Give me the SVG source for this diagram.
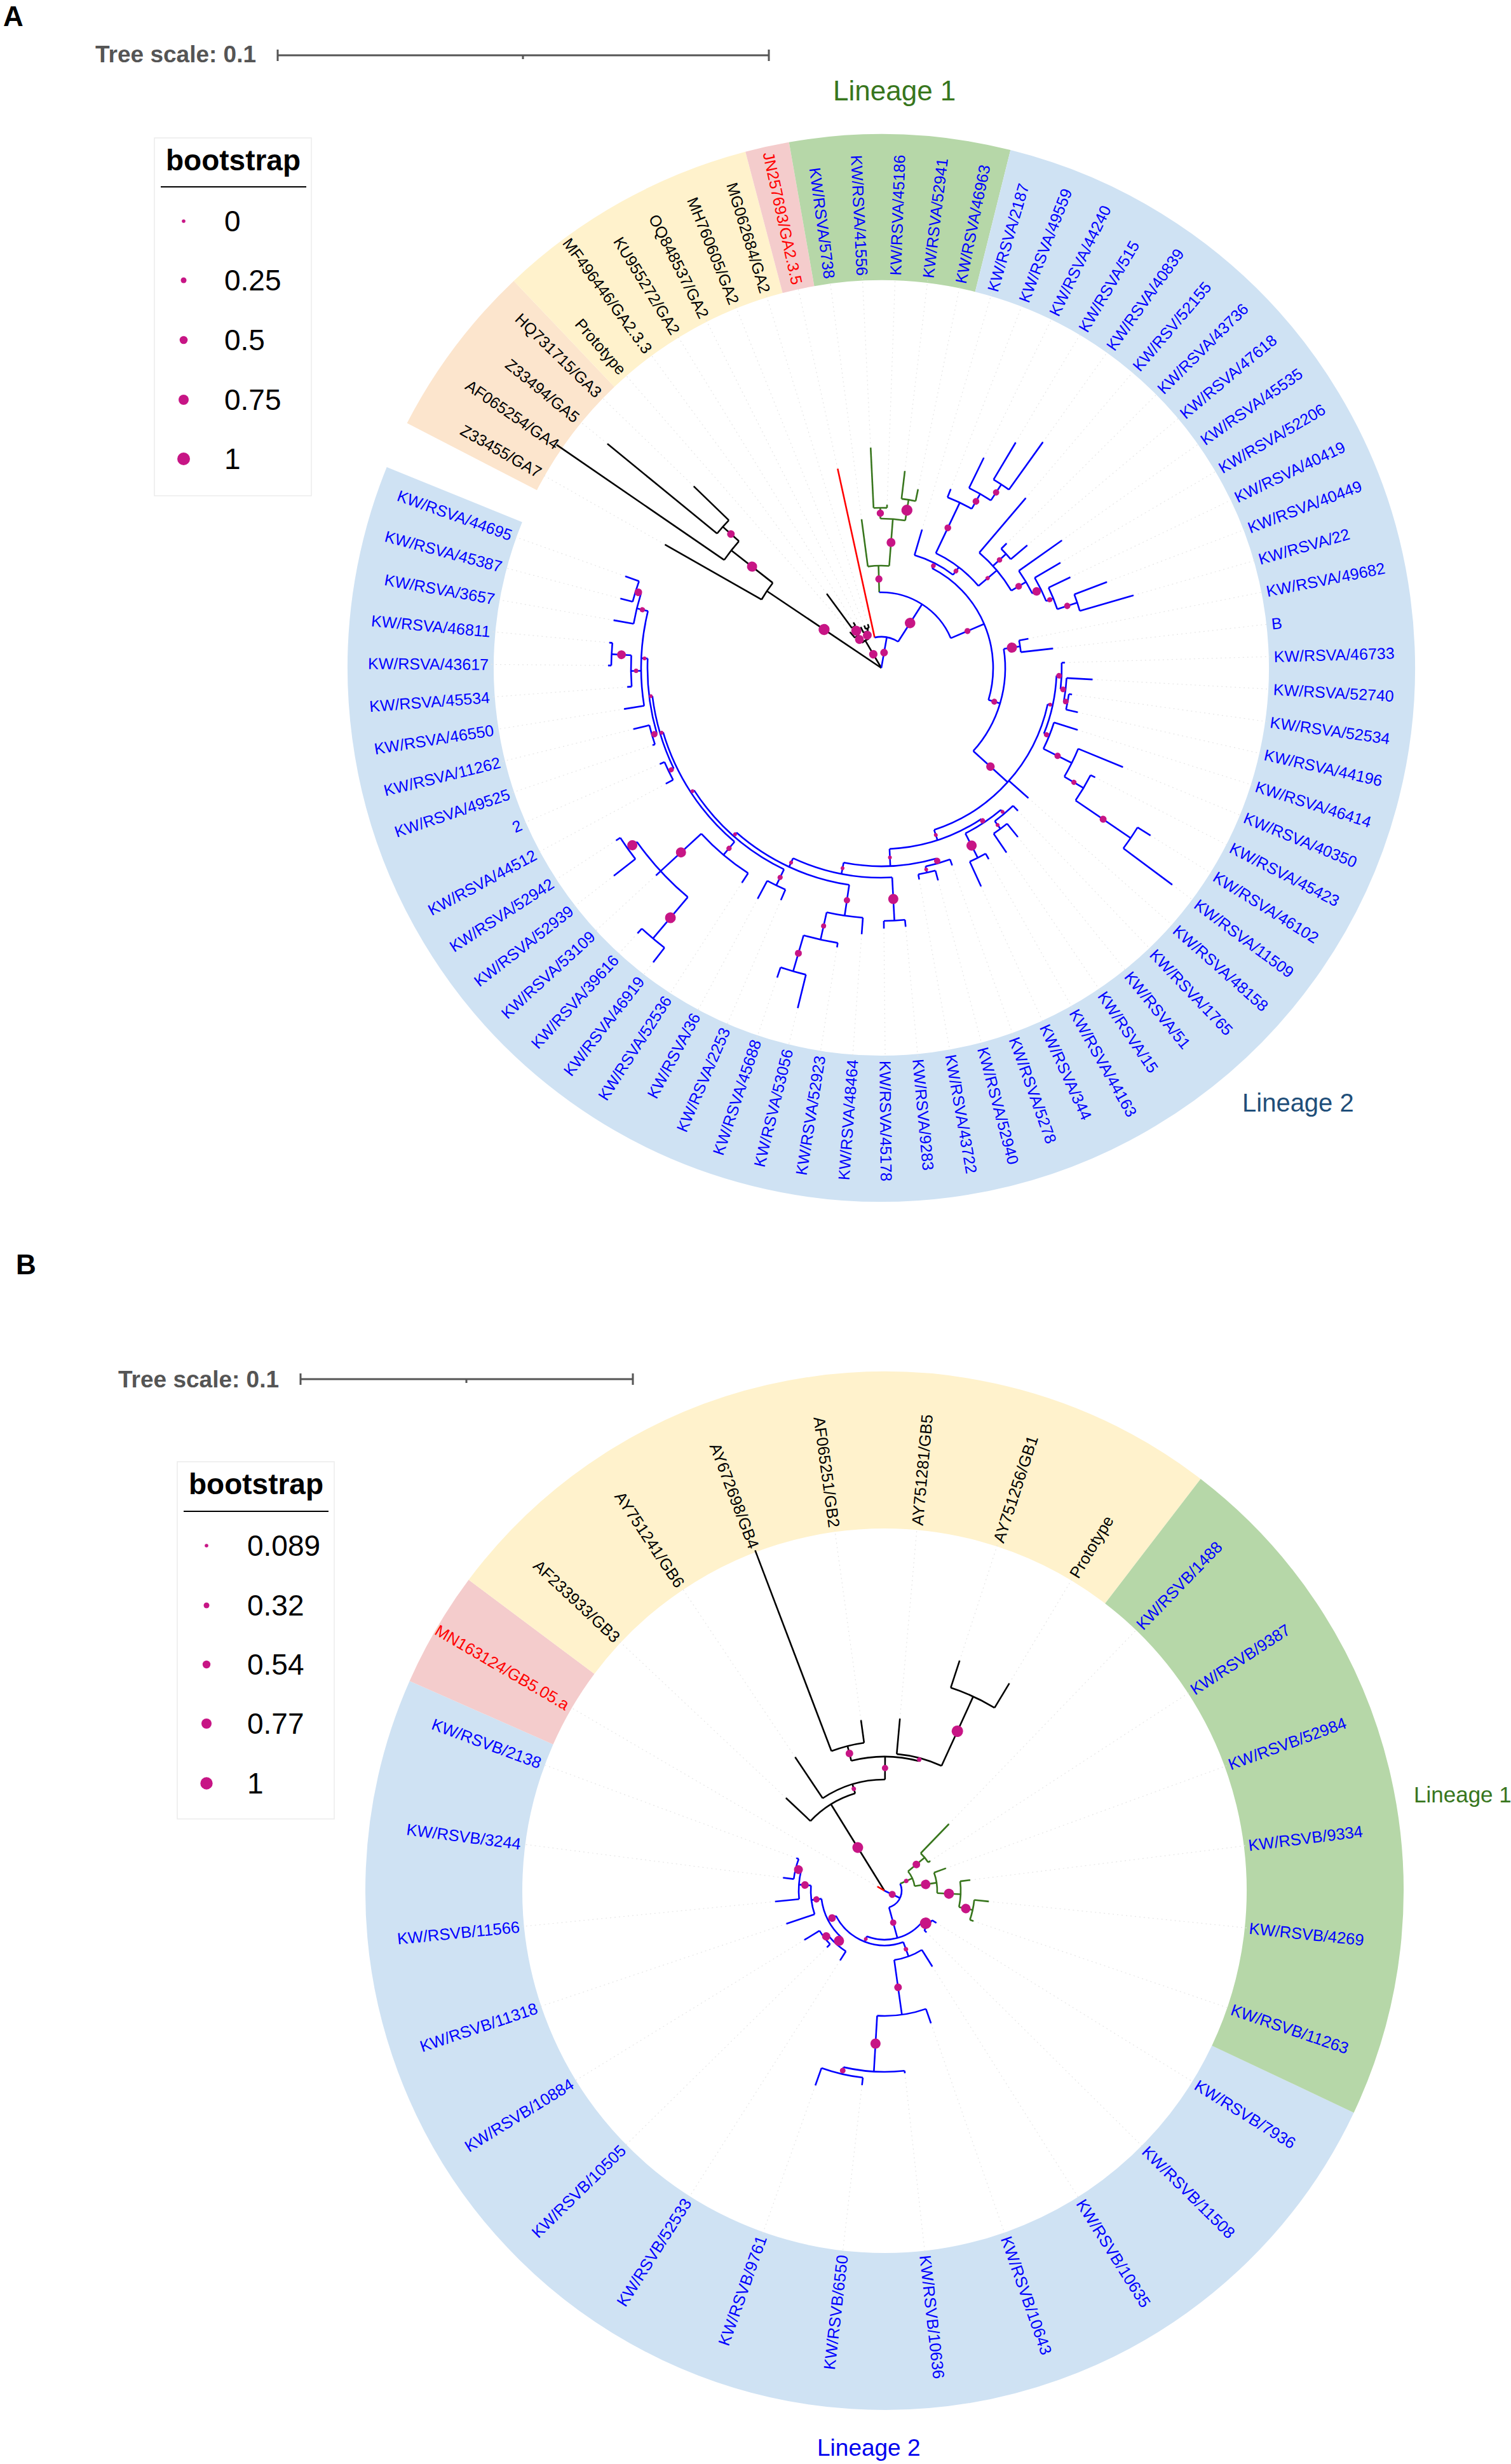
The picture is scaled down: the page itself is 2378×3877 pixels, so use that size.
<svg xmlns="http://www.w3.org/2000/svg" width="2378" height="3877" viewBox="0 0 2378 3877">
<style>
text{font-family:"Liberation Sans",Arial,sans-serif}
.lb text{font-size:25px;dominant-baseline:central}
.lbB text{font-size:25.5px;dominant-baseline:central}
.kw{fill:#0000ff}
.rf{fill:#000}
.rt{fill:#ff0000}
.dl line{stroke:#e6e6e6;stroke-width:1.2;stroke-dasharray:2 5}
.tr line,.tr circle{fill:none;stroke-width:2.6}
.k{stroke:#000}
.b{stroke:#0000ff}
.g{stroke:#38761d}
.r{stroke:#ff0000}
.dots circle{fill:#c71585}
.sc{font-weight:bold;font-size:37px;fill:#555}
.lg{font-size:46px;fill:#000}
.lgt{font-size:46px;font-weight:bold;fill:#000}
.pl{font-size:44px;font-weight:bold;fill:#000}
</style>
<rect width="2378" height="3877" fill="#fff"/>

<!-- ================= PANEL A ================= -->
<text id="A-letter" class="pl" x="5" y="41">A</text>
<g id="A-scale">
<text class="sc" x="150" y="98">Tree scale: 0.1</text>
<g stroke="#555" stroke-width="3">
<line x1="437" y1="87" x2="1210" y2="87"/><line x1="437" y1="78" x2="437" y2="96"/><line x1="1210" y1="78" x2="1210" y2="96"/><line x1="823" y1="87" x2="823" y2="93"/>
</g>
</g>
<g id="A-legend">
<rect x="243" y="217" width="247" height="563" fill="#fff" stroke="#ececec" stroke-width="1.5"/>
<text class="lgt" x="367" y="268" text-anchor="middle">bootstrap</text>
<line x1="253" y1="294" x2="482" y2="294" stroke="#000" stroke-width="2"/>
<g fill="#c71585"><circle cx="289" cy="348" r="2.8"/><circle cx="289" cy="441" r="4.5"/><circle cx="289" cy="535" r="6.3"/><circle cx="289" cy="629" r="8"/><circle cx="289" cy="722" r="10"/></g>
<text class="lg" x="353" y="364">0</text><text class="lg" x="353" y="457">0.25</text><text class="lg" x="353" y="551">0.5</text><text class="lg" x="353" y="645">0.75</text><text class="lg" x="353" y="738">1</text>
</g>

<g id="A-ranges" transform="translate(1387 1051)" fill="none" stroke-width="230">
<circle r="725" pathLength="360" stroke="#fce5cd" stroke-dasharray="19.18 400" transform="rotate(-152.70)"/>
<circle r="725" pathLength="360" stroke="#fff2cc" stroke-dasharray="28.77 400" transform="rotate(-133.52)"/>
<circle r="725" pathLength="360" stroke="#f4cccc" stroke-dasharray="4.79 400" transform="rotate(-104.75)"/>
<circle r="725" pathLength="360" stroke="#b6d7a8" stroke-dasharray="23.97 400" transform="rotate(-99.96)"/>
<circle r="725" pathLength="360" stroke="#cfe2f3" stroke-dasharray="278.09 400" transform="rotate(-75.99)"/>
</g>

<text id="A-lin1" x="1311" y="158" font-size="44" fill="#38761d">Lineage 1</text>
<text id="A-lin2" x="1955" y="1749" font-size="40" fill="#1f4e79">Lineage 2</text>

<g id="A-connectors" transform="translate(1387 1051)">
<g class="dl">
<line y1="-392" y2="-614" transform="rotate(-60.30)"/><line y1="-557" y2="-614" transform="rotate(-50.71)"/><line y1="-411" y2="-614" transform="rotate(-45.92)"/><line y1="-75" y2="-614" transform="rotate(-41.12)"/><line y1="-145" y2="-614" transform="rotate(-36.33)"/><line y1="-84" y2="-614" transform="rotate(-31.53)"/><line y1="-72" y2="-614" transform="rotate(-26.74)"/><line y1="-72" y2="-614" transform="rotate(-21.94)"/><line y1="-72" y2="-614" transform="rotate(-17.15)"/><line y1="-321" y2="-614" transform="rotate(-12.36)"/>
<line y1="-236" y2="-614" transform="rotate(-7.56)"/><line y1="-347" y2="-614" transform="rotate(-2.77)"/><line y1="-257" y2="-614" transform="rotate(2.03)"/><line y1="-312" y2="-614" transform="rotate(6.82)"/><line y1="-287" y2="-614" transform="rotate(11.62)"/><line y1="-227" y2="-614" transform="rotate(16.41)"/><line y1="-302" y2="-614" transform="rotate(21.21)"/><line y1="-368" y2="-614" transform="rotate(26.00)"/><line y1="-413" y2="-614" transform="rotate(30.80)"/><line y1="-437" y2="-614" transform="rotate(35.59)"/>
<line y1="-351" y2="-614" transform="rotate(40.38)"/><line y1="-278" y2="-614" transform="rotate(45.18)"/><line y1="-300" y2="-614" transform="rotate(49.97)"/><line y1="-348" y2="-614" transform="rotate(54.77)"/><line y1="-327" y2="-614" transform="rotate(59.56)"/><line y1="-330" y2="-614" transform="rotate(64.36)"/><line y1="-380" y2="-614" transform="rotate(69.15)"/><line y1="-413" y2="-614" transform="rotate(73.95)"/><line y1="-236" y2="-614" transform="rotate(78.74)"/><line y1="-272" y2="-614" transform="rotate(83.54)"/>
<line y1="-289" y2="-614" transform="rotate(88.33)"/><line y1="-333" y2="-614" transform="rotate(93.12)"/><line y1="-303" y2="-614" transform="rotate(97.92)"/><line y1="-317" y2="-614" transform="rotate(102.71)"/><line y1="-324" y2="-614" transform="rotate(107.51)"/><line y1="-411" y2="-614" transform="rotate(112.30)"/><line y1="-378" y2="-614" transform="rotate(117.10)"/><line y1="-499" y2="-614" transform="rotate(121.89)"/><line y1="-571" y2="-614" transform="rotate(126.69)"/><line y1="-309" y2="-614" transform="rotate(131.48)"/>
<line y1="-311" y2="-614" transform="rotate(136.27)"/><line y1="-342" y2="-614" transform="rotate(141.07)"/><line y1="-351" y2="-614" transform="rotate(145.86)"/><line y1="-345" y2="-614" transform="rotate(150.66)"/><line y1="-378" y2="-614" transform="rotate(155.45)"/><line y1="-330" y2="-614" transform="rotate(160.25)"/><line y1="-346" y2="-614" transform="rotate(165.04)"/><line y1="-338" y2="-614" transform="rotate(169.84)"/><line y1="-409" y2="-614" transform="rotate(174.63)"/><line y1="-410" y2="-614" transform="rotate(179.43)"/>
<line y1="-420" y2="-614" transform="rotate(184.22)"/><line y1="-445" y2="-614" transform="rotate(189.01)"/><line y1="-551" y2="-614" transform="rotate(193.81)"/><line y1="-514" y2="-614" transform="rotate(198.60)"/><line y1="-398" y2="-614" transform="rotate(203.40)"/><line y1="-412" y2="-614" transform="rotate(208.19)"/><line y1="-403" y2="-614" transform="rotate(212.99)"/><line y1="-586" y2="-614" transform="rotate(217.78)"/><line y1="-567" y2="-614" transform="rotate(222.58)"/><line y1="-482" y2="-614" transform="rotate(227.37)"/>
<line y1="-533" y2="-614" transform="rotate(232.16)"/><line y1="-498" y2="-614" transform="rotate(236.96)"/><line y1="-385" y2="-614" transform="rotate(241.75)"/><line y1="-380" y2="-614" transform="rotate(246.55)"/><line y1="-380" y2="-614" transform="rotate(251.34)"/><line y1="-402" y2="-614" transform="rotate(256.14)"/><line y1="-410" y2="-614" transform="rotate(260.93)"/><line y1="-401" y2="-614" transform="rotate(265.73)"/><line y1="-430" y2="-614" transform="rotate(270.52)"/><line y1="-430" y2="-614" transform="rotate(275.32)"/>
<line y1="-428" y2="-614" transform="rotate(280.11)"/><line y1="-425" y2="-614" transform="rotate(284.91)"/><line y1="-428" y2="-614" transform="rotate(289.70)"/>
</g>
<g class="tr k">
<line y2="-217" transform="rotate(-56.10)"/><line y1="-217" y2="-392" transform="rotate(-60.30)"/><line y1="-217" y2="-300" transform="rotate(-51.91)"/><line y1="-300" y2="-620" transform="rotate(-55.51)"/><line y1="-300" y2="-334" transform="rotate(-48.31)"/><line y1="-334" y2="-557" transform="rotate(-50.71)"/><line y1="-334" y2="-411" transform="rotate(-45.92)"/>
<line y2="-50" transform="rotate(-30.34)"/><line y1="-50" y2="-63" transform="rotate(-37.53)"/><line y1="-50" y2="-62" transform="rotate(-23.14)"/><line y1="-63" y2="-75" transform="rotate(-41.12)"/><line y1="-63" y2="-78" transform="rotate(-33.93)"/><line y1="-78" y2="-145" transform="rotate(-36.33)"/><line y1="-78" y2="-84" transform="rotate(-31.53)"/><line y1="-62" y2="-72" transform="rotate(-26.74)"/><line y1="-62" y2="-66" transform="rotate(-19.55)"/><line y1="-66" y2="-72" transform="rotate(-21.94)"/><line y1="-66" y2="-72" transform="rotate(-17.15)"/>
<circle r="217" pathLength="360" stroke-dasharray="8.39 400" transform="rotate(-150.30)"/>
<circle r="300" pathLength="360" stroke-dasharray="7.20 400" transform="rotate(-145.51)"/>
<circle r="334" pathLength="360" stroke-dasharray="4.79 400" transform="rotate(-140.71)"/>
<circle r="50" pathLength="360" stroke-dasharray="14.39 400" transform="rotate(-127.53)"/>
<circle r="63" pathLength="360" stroke-dasharray="7.19 400" transform="rotate(-131.12)"/>
<circle r="78" pathLength="360" stroke-dasharray="4.80 400" transform="rotate(-126.33)"/>
<circle r="62" pathLength="360" stroke-dasharray="7.19 400" transform="rotate(-116.74)"/>
<circle r="66" pathLength="360" stroke-dasharray="4.79 400" transform="rotate(-111.94)"/>
</g>
<g class="tr r"><line y1="-49" y2="-321" transform="rotate(-12.36)"/></g>
<g class="tr g">
<line y1="-119" y2="-161" transform="rotate(-1.57)"/><line y1="-161" y2="-236" transform="rotate(-7.56)"/><line y1="-161" y2="-235" transform="rotate(4.43)"/><line y1="-235" y2="-252" transform="rotate(-0.37)"/><line y1="-235" y2="-268" transform="rotate(9.22)"/><line y1="-252" y2="-347" transform="rotate(-2.77)"/><line y1="-252" y2="-257" transform="rotate(2.03)"/><line y1="-268" y2="-312" transform="rotate(6.82)"/><line y1="-268" y2="-287" transform="rotate(11.62)"/>
<circle r="161" pathLength="360" stroke-dasharray="11.99 400" transform="rotate(-97.56)"/>
<circle r="235" pathLength="360" stroke-dasharray="9.59 400" transform="rotate(-90.37)"/>
<circle r="252" pathLength="360" stroke-dasharray="4.80 400" transform="rotate(-92.77)"/>
<circle r="268" pathLength="360" stroke-dasharray="4.80 400" transform="rotate(-83.18)"/>
</g>
<g class="tr b">
<line y2="-49" transform="rotate(10.13)"/><line y1="-49" y2="-119" transform="rotate(32.62)"/><line y1="-119" y2="-176" transform="rotate(66.82)"/><line y1="-176" y2="-185" transform="rotate(27.01)"/><line y1="-176" y2="-195" transform="rotate(106.62)"/>
<line y1="-185" y2="-227" transform="rotate(16.41)"/><line y1="-185" y2="-200" transform="rotate(37.61)"/><line y1="-200" y2="-288" transform="rotate(25.40)"/><line y1="-200" y2="-238" transform="rotate(49.82)"/><line y1="-288" y2="-302" transform="rotate(21.21)"/><line y1="-288" y2="-315" transform="rotate(29.60)"/><line y1="-315" y2="-368" transform="rotate(26.00)"/><line y1="-315" y2="-345" transform="rotate(33.19)"/><line y1="-345" y2="-413" transform="rotate(30.80)"/><line y1="-345" y2="-437" transform="rotate(35.59)"/>
<line y1="-238" y2="-351" transform="rotate(40.38)"/><line y1="-238" y2="-266" transform="rotate(47.58)"/><line y1="-238" y2="-265" transform="rotate(59.26)"/><line y1="-266" y2="-278" transform="rotate(45.18)"/><line y1="-266" y2="-300" transform="rotate(49.97)"/><line y1="-265" y2="-348" transform="rotate(54.77)"/><line y1="-265" y2="-280" transform="rotate(63.76)"/><line y1="-280" y2="-327" transform="rotate(59.56)"/><line y1="-280" y2="-292" transform="rotate(67.95)"/><line y1="-292" y2="-330" transform="rotate(64.36)"/><line y1="-292" y2="-325" transform="rotate(71.55)"/><line y1="-325" y2="-380" transform="rotate(69.15)"/><line y1="-325" y2="-413" transform="rotate(73.95)"/>
<line y1="-195" y2="-221" transform="rotate(81.14)"/><line y1="-195" y2="-268" transform="rotate(132.10)"/><line y1="-221" y2="-236" transform="rotate(78.74)"/><line y1="-221" y2="-272" transform="rotate(83.54)"/>
<line y1="-268" y2="-276" transform="rotate(102.26)"/><line y1="-268" y2="-309" transform="rotate(131.48)"/><line y1="-268" y2="-285" transform="rotate(161.93)"/>
<line y1="-276" y2="-284" transform="rotate(92.52)"/><line y1="-276" y2="-285" transform="rotate(112.00)"/><line y1="-284" y2="-289" transform="rotate(88.33)"/><line y1="-284" y2="-292" transform="rotate(96.72)"/><line y1="-292" y2="-333" transform="rotate(93.12)"/><line y1="-292" y2="-298" transform="rotate(100.32)"/><line y1="-298" y2="-303" transform="rotate(97.92)"/><line y1="-298" y2="-317" transform="rotate(102.71)"/>
<line y1="-285" y2="-324" transform="rotate(107.51)"/><line y1="-285" y2="-335" transform="rotate(116.50)"/><line y1="-335" y2="-411" transform="rotate(112.30)"/><line y1="-335" y2="-370" transform="rotate(120.70)"/><line y1="-370" y2="-378" transform="rotate(117.10)"/><line y1="-370" y2="-475" transform="rotate(124.29)"/><line y1="-475" y2="-499" transform="rotate(121.89)"/><line y1="-475" y2="-571" transform="rotate(126.69)"/>
<line y1="-285" y2="-292" transform="rotate(146.46)"/><line y1="-285" y2="-312" transform="rotate(177.40)"/><line y1="-292" y2="-300" transform="rotate(139.87)"/><line y1="-292" y2="-335" transform="rotate(153.06)"/><line y1="-300" y2="-311" transform="rotate(136.27)"/><line y1="-300" y2="-315" transform="rotate(143.47)"/><line y1="-315" y2="-342" transform="rotate(141.07)"/><line y1="-315" y2="-351" transform="rotate(145.86)"/><line y1="-335" y2="-345" transform="rotate(150.66)"/><line y1="-335" y2="-378" transform="rotate(155.45)"/>
<line y1="-312" y2="-320" transform="rotate(163.84)"/><line y1="-312" y2="-330" transform="rotate(190.95)"/><line y1="-320" y2="-330" transform="rotate(160.25)"/><line y1="-320" y2="-330" transform="rotate(167.44)"/><line y1="-330" y2="-346" transform="rotate(165.04)"/><line y1="-330" y2="-338" transform="rotate(169.84)"/>
<line y1="-330" y2="-398" transform="rotate(177.03)"/><line y1="-330" y2="-345" transform="rotate(204.88)"/><line y1="-398" y2="-409" transform="rotate(174.63)"/><line y1="-398" y2="-410" transform="rotate(179.43)"/>
<line y1="-345" y2="-394" transform="rotate(188.42)"/><line y1="-345" y2="-352" transform="rotate(221.34)"/><line y1="-394" y2="-420" transform="rotate(184.22)"/><line y1="-394" y2="-438" transform="rotate(192.61)"/><line y1="-438" y2="-445" transform="rotate(189.01)"/><line y1="-438" y2="-497" transform="rotate(196.21)"/><line y1="-497" y2="-551" transform="rotate(193.81)"/><line y1="-497" y2="-514" transform="rotate(198.60)"/>
<line y1="-352" y2="-380" transform="rotate(205.79)"/><line y1="-352" y2="-358" transform="rotate(236.88)"/><line y1="-380" y2="-398" transform="rotate(203.40)"/><line y1="-380" y2="-412" transform="rotate(208.19)"/>
<line y1="-358" y2="-385" transform="rotate(220.18)"/><line y1="-358" y2="-363" transform="rotate(253.59)"/><line y1="-385" y2="-403" transform="rotate(212.99)"/><line y1="-385" y2="-472" transform="rotate(227.37)"/><line y1="-472" y2="-557" transform="rotate(220.18)"/><line y1="-472" y2="-482" transform="rotate(227.37)"/><line y1="-472" y2="-490" transform="rotate(234.56)"/><line y1="-557" y2="-586" transform="rotate(217.78)"/><line y1="-557" y2="-567" transform="rotate(222.58)"/><line y1="-490" y2="-533" transform="rotate(232.16)"/><line y1="-490" y2="-498" transform="rotate(236.96)"/>
<line y1="-363" y2="-372" transform="rotate(244.15)"/><line y1="-363" y2="-368" transform="rotate(263.03)"/><line y1="-372" y2="-385" transform="rotate(241.75)"/><line y1="-372" y2="-380" transform="rotate(246.55)"/><line y1="-368" y2="-376" transform="rotate(253.74)"/><line y1="-368" y2="-378" transform="rotate(272.32)"/><line y1="-376" y2="-380" transform="rotate(251.34)"/><line y1="-376" y2="-402" transform="rotate(256.14)"/>
<line y1="-378" y2="-410" transform="rotate(260.93)"/><line y1="-378" y2="-394" transform="rotate(269.32)"/><line y1="-378" y2="-396" transform="rotate(283.70)"/><line y1="-394" y2="-401" transform="rotate(265.73)"/><line y1="-394" y2="-425" transform="rotate(272.92)"/><line y1="-425" y2="-430" transform="rotate(270.52)"/><line y1="-425" y2="-430" transform="rotate(275.32)"/><line y1="-396" y2="-428" transform="rotate(280.11)"/><line y1="-396" y2="-405" transform="rotate(287.30)"/><line y1="-405" y2="-425" transform="rotate(284.91)"/><line y1="-405" y2="-428" transform="rotate(289.70)"/>
<circle r="49" pathLength="360" stroke-dasharray="44.98 400" transform="rotate(-102.36)"/>
<circle r="119" pathLength="360" stroke-dasharray="68.39 400" transform="rotate(-91.57)"/>
<circle r="176" pathLength="360" stroke-dasharray="79.61 400" transform="rotate(-62.99)"/>
<circle r="185" pathLength="360" stroke-dasharray="21.20 400" transform="rotate(-73.59)"/>
<circle r="200" pathLength="360" stroke-dasharray="24.42 400" transform="rotate(-64.60)"/>
<circle r="288" pathLength="360" stroke-dasharray="8.39 400" transform="rotate(-68.79)"/>
<circle r="315" pathLength="360" stroke-dasharray="7.19 400" transform="rotate(-64.00)"/>
<circle r="345" pathLength="360" stroke-dasharray="4.79 400" transform="rotate(-59.20)"/>
<circle r="238" pathLength="360" stroke-dasharray="18.88 400" transform="rotate(-49.62)"/>
<circle r="266" pathLength="360" stroke-dasharray="4.79 400" transform="rotate(-44.82)"/>
<circle r="265" pathLength="360" stroke-dasharray="8.99 400" transform="rotate(-35.23)"/>
<circle r="280" pathLength="360" stroke-dasharray="8.39 400" transform="rotate(-30.44)"/>
<circle r="292" pathLength="360" stroke-dasharray="7.19 400" transform="rotate(-25.64)"/>
<circle r="325" pathLength="360" stroke-dasharray="4.80 400" transform="rotate(-20.85)"/>
<circle r="195" pathLength="360" stroke-dasharray="50.96 400" transform="rotate(-8.86)"/>
<circle r="221" pathLength="360" stroke-dasharray="4.80 400" transform="rotate(-11.26)"/>
<circle r="268" pathLength="360" stroke-dasharray="59.67 400" transform="rotate(12.26)"/>
<circle r="276" pathLength="360" stroke-dasharray="19.48 400" transform="rotate(2.52)"/>
<circle r="284" pathLength="360" stroke-dasharray="8.39 400" transform="rotate(-1.67)"/>
<circle r="292" pathLength="360" stroke-dasharray="7.20 400" transform="rotate(3.12)"/>
<circle r="298" pathLength="360" stroke-dasharray="4.79 400" transform="rotate(7.92)"/>
<circle r="285" pathLength="360" stroke-dasharray="8.99 400" transform="rotate(17.51)"/>
<circle r="335" pathLength="360" stroke-dasharray="8.40 400" transform="rotate(22.30)"/>
<circle r="370" pathLength="360" stroke-dasharray="7.19 400" transform="rotate(27.10)"/>
<circle r="475" pathLength="360" stroke-dasharray="4.80 400" transform="rotate(31.89)"/>
<circle r="285" pathLength="360" stroke-dasharray="30.94 400" transform="rotate(56.46)"/>
<circle r="292" pathLength="360" stroke-dasharray="13.19 400" transform="rotate(49.87)"/>
<circle r="300" pathLength="360" stroke-dasharray="7.20 400" transform="rotate(46.27)"/>
<circle r="315" pathLength="360" stroke-dasharray="4.79 400" transform="rotate(51.07)"/>
<circle r="335" pathLength="360" stroke-dasharray="4.79 400" transform="rotate(60.66)"/>
<circle r="312" pathLength="360" stroke-dasharray="27.11 400" transform="rotate(73.84)"/>
<circle r="320" pathLength="360" stroke-dasharray="7.19 400" transform="rotate(70.25)"/>
<circle r="330" pathLength="360" stroke-dasharray="4.80 400" transform="rotate(75.04)"/>
<circle r="330" pathLength="360" stroke-dasharray="27.85 400" transform="rotate(87.03)"/>
<circle r="398" pathLength="360" stroke-dasharray="4.80 400" transform="rotate(84.63)"/>
<circle r="345" pathLength="360" stroke-dasharray="32.92 400" transform="rotate(98.42)"/>
<circle r="394" pathLength="360" stroke-dasharray="8.39 400" transform="rotate(94.22)"/>
<circle r="438" pathLength="360" stroke-dasharray="7.20 400" transform="rotate(99.01)"/>
<circle r="497" pathLength="360" stroke-dasharray="4.79 400" transform="rotate(103.81)"/>
<circle r="352" pathLength="360" stroke-dasharray="31.09 400" transform="rotate(115.79)"/>
<circle r="380" pathLength="360" stroke-dasharray="4.79 400" transform="rotate(113.40)"/>
<circle r="358" pathLength="360" stroke-dasharray="33.41 400" transform="rotate(130.18)"/>
<circle r="385" pathLength="360" stroke-dasharray="14.38 400" transform="rotate(122.99)"/>
<circle r="472" pathLength="360" stroke-dasharray="14.38 400" transform="rotate(130.18)"/>
<circle r="557" pathLength="360" stroke-dasharray="4.80 400" transform="rotate(127.78)"/>
<circle r="490" pathLength="360" stroke-dasharray="4.80 400" transform="rotate(142.16)"/>
<circle r="363" pathLength="360" stroke-dasharray="18.88 400" transform="rotate(154.15)"/>
<circle r="372" pathLength="360" stroke-dasharray="4.80 400" transform="rotate(151.75)"/>
<circle r="368" pathLength="360" stroke-dasharray="18.58 400" transform="rotate(163.74)"/>
<circle r="376" pathLength="360" stroke-dasharray="4.80 400" transform="rotate(161.34)"/>
<circle r="378" pathLength="360" stroke-dasharray="22.77 400" transform="rotate(170.93)"/>
<circle r="394" pathLength="360" stroke-dasharray="7.19 400" transform="rotate(175.73)"/>
<circle r="425" pathLength="360" stroke-dasharray="4.80 400" transform="rotate(180.52)"/>
<circle r="396" pathLength="360" stroke-dasharray="7.19 400" transform="rotate(190.11)"/>
<circle r="405" pathLength="360" stroke-dasharray="4.79 400" transform="rotate(194.91)"/>
</g>
</g>

<g id="A-nodes" class="dots" transform="translate(1387 1051)">
<circle cy="-108.5" r="8.7" transform="rotate(-56.10)"/><circle cy="-258.5" r="8" transform="rotate(-51.91)"/><circle cy="-317" r="6" transform="rotate(-48.31)"/>
<circle cy="-25" r="6.7" transform="rotate(-30.34)"/><circle cy="-56.5" r="7" transform="rotate(-37.53)"/><circle cy="-70.5" r="8" transform="rotate(-33.93)"/><circle cy="-56" r="7" transform="rotate(-23.14)"/>
<circle cy="-24.5" r="6" transform="rotate(10.13)"/><circle cy="-84" r="8.3" transform="rotate(32.62)"/>
<circle cy="-140" r="5.7" transform="rotate(-1.57)"/><circle cy="-198" r="7" transform="rotate(4.43)"/><circle cy="-243.5" r="5.7" transform="rotate(-0.37)"/><circle cy="-251.5" r="8.7" transform="rotate(9.22)"/>
<circle cy="-147.5" r="4.7" transform="rotate(66.82)"/><circle cy="-180.5" r="3.7" transform="rotate(27.01)"/><circle cy="-192.5" r="3.7" transform="rotate(37.61)"/><circle cy="-244" r="5.3" transform="rotate(25.40)"/><circle cy="-301.5" r="5.3" transform="rotate(29.60)"/><circle cy="-330" r="5" transform="rotate(33.19)"/>
<circle cy="-219" r="3.3" transform="rotate(49.82)"/><circle cy="-252" r="4.3" transform="rotate(47.58)"/><circle cy="-251.5" r="5.3" transform="rotate(59.26)"/><circle cy="-272.5" r="6.7" transform="rotate(63.76)"/><circle cy="-286" r="4" transform="rotate(67.95)"/><circle cy="-308.5" r="5" transform="rotate(71.55)"/>
<circle cy="-185.5" r="4.7" transform="rotate(106.62)"/><circle cy="-208" r="8" transform="rotate(81.14)"/><circle cy="-231.5" r="6.7" transform="rotate(132.10)"/><circle cy="-272" r="3" transform="rotate(102.26)"/>
<circle cy="-280" r="4.5" transform="rotate(92.52)"/><circle cy="-288" r="4.5" transform="rotate(96.72)"/><circle cy="-295" r="4.5" transform="rotate(100.32)"/><circle cy="-280.5" r="4" transform="rotate(112.00)"/><circle cy="-310" r="5" transform="rotate(116.50)"/><circle cy="-352.5" r="4" transform="rotate(120.70)"/><circle cy="-422.5" r="5.5" transform="rotate(124.29)"/>
<circle cy="-276.5" r="3" transform="rotate(161.93)"/><circle cy="-288.5" r="4" transform="rotate(146.46)"/><circle cy="-296" r="3" transform="rotate(139.87)"/><circle cy="-307.5" r="3" transform="rotate(143.47)"/><circle cy="-313.5" r="8" transform="rotate(153.06)"/>
<circle cy="-298.5" r="3" transform="rotate(177.40)"/><circle cy="-316" r="5" transform="rotate(163.84)"/><circle cy="-325" r="3" transform="rotate(167.44)"/><circle cy="-321" r="3" transform="rotate(190.95)"/><circle cy="-364" r="8" transform="rotate(177.03)"/>
<circle cy="-337.5" r="3" transform="rotate(204.88)"/><circle cy="-369.5" r="5" transform="rotate(188.42)"/><circle cy="-416" r="4" transform="rotate(192.61)"/><circle cy="-467.5" r="5.5" transform="rotate(196.21)"/>
<circle cy="-348.5" r="3" transform="rotate(221.34)"/><circle cy="-366" r="4" transform="rotate(205.79)"/><circle cy="-355" r="3" transform="rotate(236.88)"/><circle cy="-371.5" r="4" transform="rotate(220.18)"/><circle cy="-428.5" r="8" transform="rotate(227.37)"/><circle cy="-514.5" r="8.5" transform="rotate(220.18)"/><circle cy="-481" r="8" transform="rotate(234.56)"/>
<circle cy="-360.5" r="3" transform="rotate(253.59)"/><circle cy="-367.5" r="4" transform="rotate(244.15)"/><circle cy="-365.5" r="3" transform="rotate(263.03)"/><circle cy="-372" r="5" transform="rotate(253.74)"/><circle cy="-373" r="3" transform="rotate(272.32)"/><circle cy="-386" r="3.5" transform="rotate(269.32)"/><circle cy="-409.5" r="7" transform="rotate(272.92)"/><circle cy="-387" r="4" transform="rotate(283.70)"/><circle cy="-400.5" r="6" transform="rotate(287.30)"/>
</g>

<g id="A-labels" class="lb" transform="translate(1387 1051)">
<g class="rf" text-anchor="end">
<text transform="rotate(29.70) translate(-618 0)">Z33455/GA7</text>
<text transform="rotate(34.49) translate(-618 0)">AF065254/GA4</text>
<text transform="rotate(39.29) translate(-618 0)">Z33494/GA5</text>
<text transform="rotate(44.08) translate(-618 0)">HQ731715/GA3</text>
<text transform="rotate(48.88) translate(-618 0)">Prototype</text>
<text transform="rotate(53.67) translate(-618 0)">MF496446/GA2.3.3</text>
<text transform="rotate(58.47) translate(-618 0)">KU955272/GA2</text>
<text transform="rotate(63.26) translate(-618 0)">OQ848537/GA2</text>
<text transform="rotate(68.06) translate(-618 0)">MH760605/GA2</text>
<text transform="rotate(72.85) translate(-618 0)">MG062684/GA2</text>
</g>
<text class="rt" text-anchor="end" transform="rotate(77.64) translate(-618 0)">JN257693/GA2.3.5</text>
<g class="kw" text-anchor="end">
<text transform="rotate(82.44) translate(-618 0)">KW/RSVA/5738</text>
<text transform="rotate(87.23) translate(-618 0)">KW/RSVA/41556</text>
<text transform="rotate(274.22) translate(-618 0)">KW/RSVA/48464</text>
<text transform="rotate(279.01) translate(-618 0)">KW/RSVA/52923</text>
<text transform="rotate(283.81) translate(-618 0)">KW/RSVA/53056</text>
<text transform="rotate(288.60) translate(-618 0)">KW/RSVA/45688</text>
<text transform="rotate(293.40) translate(-618 0)">KW/RSVA/2253</text>
<text transform="rotate(298.19) translate(-618 0)">KW/RSVA/36</text>
<text transform="rotate(302.99) translate(-618 0)">KW/RSVA/52536</text>
<text transform="rotate(307.78) translate(-618 0)">KW/RSVA/46919</text>
<text transform="rotate(312.58) translate(-618 0)">KW/RSVA/39616</text>
<text transform="rotate(317.37) translate(-618 0)">KW/RSVA/53109</text>
<text transform="rotate(322.16) translate(-618 0)">KW/RSVA/52939</text>
<text transform="rotate(326.96) translate(-618 0)">KW/RSVA/52942</text>
<text transform="rotate(331.75) translate(-618 0)">KW/RSVA/44512</text>
<text transform="rotate(336.55) translate(-618 0)">2</text>
<text transform="rotate(341.34) translate(-618 0)">KW/RSVA/49525</text>
<text transform="rotate(346.14) translate(-618 0)">KW/RSVA/11262</text>
<text transform="rotate(350.93) translate(-618 0)">KW/RSVA/46550</text>
<text transform="rotate(355.73) translate(-618 0)">KW/RSVA/45534</text>
<text transform="rotate(360.52) translate(-618 0)">KW/RSVA/43617</text>
<text transform="rotate(365.32) translate(-618 0)">KW/RSVA/46811</text>
<text transform="rotate(370.11) translate(-618 0)">KW/RSVA/3657</text>
<text transform="rotate(374.91) translate(-618 0)">KW/RSVA/45387</text>
<text transform="rotate(379.70) translate(-618 0)">KW/RSVA/44695</text>
</g>
<g class="kw">
<text transform="rotate(-87.97) translate(618 0)">KW/RSVA/45186</text>
<text transform="rotate(-83.18) translate(618 0)">KW/RSVA/52941</text>
<text transform="rotate(-78.38) translate(618 0)">KW/RSVA/46963</text>
<text transform="rotate(-73.59) translate(618 0)">KW/RSVA/2187</text>
<text transform="rotate(-68.79) translate(618 0)">KW/RSVA/49559</text>
<text transform="rotate(-64.00) translate(618 0)">KW/RSVA/44240</text>
<text transform="rotate(-59.20) translate(618 0)">KW/RSVA/515</text>
<text transform="rotate(-54.41) translate(618 0)">KW/RSVA/40839</text>
<text transform="rotate(-49.62) translate(618 0)">KW/RSV/52155</text>
<text transform="rotate(-44.82) translate(618 0)">KW/RSVA/43736</text>
<text transform="rotate(-40.03) translate(618 0)">KW/RSVA/47618</text>
<text transform="rotate(-35.23) translate(618 0)">KW/RSVA/45535</text>
<text transform="rotate(-30.44) translate(618 0)">KW/RSVA/52206</text>
<text transform="rotate(-25.64) translate(618 0)">KW/RSVA/40419</text>
<text transform="rotate(-20.85) translate(618 0)">KW/RSVA/40449</text>
<text transform="rotate(-16.05) translate(618 0)">KW/RSVA/22</text>
<text transform="rotate(-11.26) translate(618 0)">KW/RSVA/49682</text>
<text transform="rotate(-6.46) translate(618 0)">B</text>
<text transform="rotate(-1.67) translate(618 0)">KW/RSVA/46733</text>
<text transform="rotate(3.12) translate(618 0)">KW/RSVA/52740</text>
<text transform="rotate(7.92) translate(618 0)">KW/RSVA/52534</text>
<text transform="rotate(12.71) translate(618 0)">KW/RSVA/44196</text>
<text transform="rotate(17.51) translate(618 0)">KW/RSVA/46414</text>
<text transform="rotate(22.30) translate(618 0)">KW/RSVA/40350</text>
<text transform="rotate(27.10) translate(618 0)">KW/RSVA/45423</text>
<text transform="rotate(31.89) translate(618 0)">KW/RSVA/46102</text>
<text transform="rotate(36.69) translate(618 0)">KW/RSVA/11509</text>
<text transform="rotate(41.48) translate(618 0)">KW/RSVA/48158</text>
<text transform="rotate(46.27) translate(618 0)">KW/RSVA/1765</text>
<text transform="rotate(51.07) translate(618 0)">KW/RSVA/51</text>
<text transform="rotate(55.86) translate(618 0)">KW/RSVA/15</text>
<text transform="rotate(60.66) translate(618 0)">KW/RSVA/44163</text>
<text transform="rotate(65.45) translate(618 0)">KW/RSVA/344</text>
<text transform="rotate(70.25) translate(618 0)">KW/RSVA/5278</text>
<text transform="rotate(75.04) translate(618 0)">KW/RSVA/52940</text>
<text transform="rotate(79.84) translate(618 0)">KW/RSVA/43722</text>
<text transform="rotate(84.63) translate(618 0)">KW/RSVA/9283</text>
<text transform="rotate(89.43) translate(618 0)">KW/RSVA/45178</text>
</g>
</g>

<!-- ================= PANEL B ================= -->
<text id="B-letter" class="pl" x="25" y="2005">B</text>
<g id="B-scale">
<text class="sc" x="186" y="2183">Tree scale: 0.1</text>
<g stroke="#555" stroke-width="3">
<line x1="473" y1="2170" x2="996" y2="2170"/><line x1="473" y1="2161" x2="473" y2="2179"/><line x1="996" y1="2161" x2="996" y2="2179"/><line x1="734" y1="2170" x2="734" y2="2176"/>
</g>
</g>
<g id="B-legend">
<rect x="279" y="2300" width="247" height="562" fill="#fff" stroke="#ececec" stroke-width="1.5"/>
<text class="lgt" x="403" y="2351" text-anchor="middle">bootstrap</text>
<line x1="289" y1="2378" x2="517" y2="2378" stroke="#000" stroke-width="2"/>
<g fill="#c71585"><circle cx="325" cy="2432" r="2.8"/><circle cx="325" cy="2526" r="4.5"/><circle cx="325" cy="2619" r="6.2"/><circle cx="325" cy="2712" r="8"/><circle cx="325" cy="2806" r="9.7"/></g>
<text class="lg" x="389" y="2448">0.089</text><text class="lg" x="389" y="2542">0.32</text><text class="lg" x="389" y="2635">0.54</text><text class="lg" x="389" y="2728">0.77</text><text class="lg" x="389" y="2822">1</text>
</g>

<g id="B-ranges" transform="translate(1392 2975)" fill="none" stroke-width="247">
<circle r="693.5" pathLength="360" stroke="#cfe2f3" stroke-dasharray="178.52 400" transform="rotate(25.30)"/>
<circle r="693.5" pathLength="360" stroke="#f4cccc" stroke-dasharray="12.96 400" transform="rotate(-156.18)"/>
<circle r="693.5" pathLength="360" stroke="#fff2cc" stroke-dasharray="90.74 400" transform="rotate(-143.22)"/>
<circle r="693.5" pathLength="360" stroke="#b6d7a8" stroke-dasharray="77.78 400" transform="rotate(-52.48)"/>
</g>

<text id="B-lin1" x="2225" y="2836" font-size="35" fill="#38761d">Lineage 1</text>
<text id="B-lin2" x="1286" y="3864" font-size="37" fill="#0000ee">Lineage 2</text>

<g id="B-connectors" transform="translate(1392 2975)">
<g class="dl">
<line y1="-13" y2="-573" transform="rotate(-59.70)"/><line y1="-213" y2="-573" transform="rotate(-46.74)"/><line y1="-253" y2="-573" transform="rotate(-33.77)"/><line y1="-271" y2="-573" transform="rotate(-7.85)"/><line y1="-272" y2="-573" transform="rotate(5.12)"/><line y1="-381" y2="-573" transform="rotate(18.08)"/><line y1="-381" y2="-573" transform="rotate(31.04)"/>
<line y1="-146" y2="-573" transform="rotate(44.00)"/><line y1="-86" y2="-573" transform="rotate(56.97)"/><line y1="-103" y2="-573" transform="rotate(69.93)"/><line y1="-136" y2="-573" transform="rotate(82.89)"/><line y1="-165" y2="-573" transform="rotate(95.86)"/><line y1="-148" y2="-573" transform="rotate(108.82)"/>
<line y1="-96" y2="-573" transform="rotate(121.78)"/><line y1="-93" y2="-573" transform="rotate(134.74)"/><line y1="-141" y2="-573" transform="rotate(147.71)"/><line y1="-221" y2="-573" transform="rotate(160.67)"/><line y1="-289" y2="-573" transform="rotate(173.63)"/><line y1="-308" y2="-573" transform="rotate(186.60)"/><line y1="-325" y2="-573" transform="rotate(199.56)"/>
<line y1="-130" y2="-573" transform="rotate(212.52)"/><line y1="-127" y2="-573" transform="rotate(225.49)"/><line y1="-148" y2="-573" transform="rotate(238.45)"/><line y1="-163" y2="-573" transform="rotate(251.41)"/><line y1="-173" y2="-573" transform="rotate(264.37)"/><line y1="-161" y2="-573" transform="rotate(277.34)"/><line y1="-148" y2="-573" transform="rotate(290.30)"/>
</g>
<g class="tr k">
<line y2="-160" transform="rotate(-31.75)"/><line y1="-160" y2="-213" transform="rotate(-46.74)"/><line y1="-160" y2="-175" transform="rotate(-16.76)"/><line y1="-175" y2="-253" transform="rotate(-33.77)"/><line y1="-175" y2="-211" transform="rotate(0.26)"/><line y1="-211" y2="-235" transform="rotate(-14.33)"/><line y1="-211" y2="-216" transform="rotate(14.84)"/><line y1="-235" y2="-573" transform="rotate(-20.81)"/><line y1="-235" y2="-271" transform="rotate(-7.85)"/><line y1="-216" y2="-272" transform="rotate(5.12)"/><line y1="-216" y2="-336" transform="rotate(24.56)"/><line y1="-336" y2="-381" transform="rotate(18.08)"/><line y1="-336" y2="-381" transform="rotate(31.04)"/>
<circle r="160" pathLength="360" stroke-dasharray="29.98 400" transform="rotate(-136.74)"/>
<circle r="175" pathLength="360" stroke-dasharray="34.03 400" transform="rotate(-123.77)"/>
<circle r="211" pathLength="360" stroke-dasharray="29.17 400" transform="rotate(-104.33)"/>
<circle r="235" pathLength="360" stroke-dasharray="12.96 400" transform="rotate(-110.81)"/>
<circle r="216" pathLength="360" stroke-dasharray="19.44 400" transform="rotate(-84.88)"/>
<circle r="336" pathLength="360" stroke-dasharray="12.96 400" transform="rotate(-71.92)"/>
</g>
<g class="tr r"><line y2="-13" transform="rotate(-59.70)"/></g>
<g class="tr g">
<line y1="-27" y2="-48" transform="rotate(65.88)"/><line y1="-48" y2="-82" transform="rotate(50.49)"/><line y1="-48" y2="-83" transform="rotate(81.27)"/><line y1="-82" y2="-146" transform="rotate(44.00)"/><line y1="-82" y2="-86" transform="rotate(56.97)"/><line y1="-83" y2="-103" transform="rotate(69.93)"/><line y1="-83" y2="-120" transform="rotate(92.62)"/><line y1="-120" y2="-136" transform="rotate(82.89)"/><line y1="-120" y2="-142" transform="rotate(102.34)"/><line y1="-142" y2="-165" transform="rotate(95.86)"/><line y1="-142" y2="-148" transform="rotate(108.82)"/>
<circle r="48" pathLength="360" stroke-dasharray="30.78 400" transform="rotate(-39.51)"/>
<circle r="82" pathLength="360" stroke-dasharray="12.97 400" transform="rotate(-46.00)"/>
<circle r="83" pathLength="360" stroke-dasharray="22.69 400" transform="rotate(-20.07)"/>
<circle r="120" pathLength="360" stroke-dasharray="19.45 400" transform="rotate(-7.11)"/>
<circle r="142" pathLength="360" stroke-dasharray="12.96 400" transform="rotate(5.86)"/>
</g>
<g class="tr b">
<line y2="-27" transform="rotate(115.30)"/><line y1="-27" y2="-77" transform="rotate(164.72)"/><line y1="-77" y2="-88" transform="rotate(128.26)"/><line y1="-77" y2="-86" transform="rotate(201.18)"/><line y1="-88" y2="-96" transform="rotate(121.78)"/><line y1="-88" y2="-93" transform="rotate(134.74)"/>
<line y1="-86" y2="-110" transform="rotate(159.86)"/><line y1="-86" y2="-100" transform="rotate(242.50)"/><line y1="-110" y2="-141" transform="rotate(147.71)"/><line y1="-110" y2="-197" transform="rotate(172.00)"/><line y1="-197" y2="-221" transform="rotate(160.67)"/><line y1="-197" y2="-285" transform="rotate(183.36)"/><line y1="-285" y2="-289" transform="rotate(173.63)"/><line y1="-285" y2="-296" transform="rotate(193.08)"/><line y1="-296" y2="-308" transform="rotate(186.60)"/><line y1="-296" y2="-325" transform="rotate(199.56)"/>
<line y1="-100" y2="-113" transform="rotate(222.25)"/><line y1="-100" y2="-116" transform="rotate(262.75)"/><line y1="-113" y2="-130" transform="rotate(212.52)"/><line y1="-113" y2="-120" transform="rotate(231.97)"/><line y1="-120" y2="-127" transform="rotate(225.49)"/><line y1="-120" y2="-148" transform="rotate(238.45)"/><line y1="-116" y2="-163" transform="rotate(251.41)"/><line y1="-116" y2="-135" transform="rotate(274.10)"/><line y1="-135" y2="-173" transform="rotate(264.37)"/><line y1="-135" y2="-144" transform="rotate(283.82)"/><line y1="-144" y2="-161" transform="rotate(277.34)"/><line y1="-144" y2="-148" transform="rotate(290.30)"/>
<circle r="27" pathLength="360" stroke-dasharray="98.84 400" transform="rotate(-24.12)"/>
<circle r="77" pathLength="360" stroke-dasharray="72.92 400" transform="rotate(38.26)"/>
<circle r="88" pathLength="360" stroke-dasharray="12.96 400" transform="rotate(31.78)"/>
<circle r="86" pathLength="360" stroke-dasharray="82.64 400" transform="rotate(69.86)"/>
<circle r="110" pathLength="360" stroke-dasharray="24.29 400" transform="rotate(57.71)"/>
<circle r="197" pathLength="360" stroke-dasharray="22.69 400" transform="rotate(70.67)"/>
<circle r="285" pathLength="360" stroke-dasharray="19.45 400" transform="rotate(83.63)"/>
<circle r="296" pathLength="360" stroke-dasharray="12.96 400" transform="rotate(96.60)"/>
<circle r="100" pathLength="360" stroke-dasharray="40.50 400" transform="rotate(132.25)"/>
<circle r="113" pathLength="360" stroke-dasharray="19.45 400" transform="rotate(122.52)"/>
<circle r="120" pathLength="360" stroke-dasharray="12.96 400" transform="rotate(135.49)"/>
<circle r="116" pathLength="360" stroke-dasharray="22.69 400" transform="rotate(161.41)"/>
<circle r="135" pathLength="360" stroke-dasharray="19.45 400" transform="rotate(174.37)"/>
<circle r="144" pathLength="360" stroke-dasharray="12.96 400" transform="rotate(187.34)"/>
</g>
</g>

<g id="B-nodes" class="dots" transform="translate(1392 2975)">
<circle cy="-80" r="8.5" transform="rotate(-31.75)"/><circle cy="-167.5" r="3.5" transform="rotate(-16.76)"/><circle cy="-193" r="5" transform="rotate(0.26)"/><circle cy="-223" r="6" transform="rotate(-14.33)"/><circle cy="-213.5" r="3.5" transform="rotate(14.84)"/><circle cy="-276" r="9" transform="rotate(24.56)"/>
<circle cy="-13.5" r="5.5" transform="rotate(115.30)"/><circle cy="-37.5" r="3.5" transform="rotate(65.88)"/><circle cy="-65" r="6" transform="rotate(50.49)"/><circle cy="-65.5" r="7.5" transform="rotate(81.27)"/><circle cy="-101.5" r="8" transform="rotate(92.62)"/><circle cy="-131" r="7.5" transform="rotate(102.34)"/>
<circle cy="-52" r="5" transform="rotate(164.72)"/><circle cy="-82.5" r="9" transform="rotate(128.26)"/><circle cy="-81.5" r="3" transform="rotate(201.18)"/><circle cy="-98" r="3.5" transform="rotate(159.86)"/><circle cy="-153.5" r="6" transform="rotate(172.00)"/><circle cy="-241" r="8" transform="rotate(183.36)"/><circle cy="-290.5" r="4.5" transform="rotate(193.08)"/>
<circle cy="-93" r="6" transform="rotate(242.50)"/><circle cy="-108" r="5" transform="rotate(262.75)"/><circle cy="-125.5" r="6" transform="rotate(274.10)"/><circle cy="-139.5" r="7" transform="rotate(283.82)"/><circle cy="-106.5" r="8" transform="rotate(222.25)"/><circle cy="-116.5" r="6.5" transform="rotate(231.97)"/>
</g>

<g id="B-labels" class="lbB" transform="translate(1392 2975)">
<text class="rt" text-anchor="end" transform="rotate(30.30) translate(-577 0)">MN163124/GB5.05.a</text>
<g class="rf" text-anchor="end">
<text transform="rotate(43.26) translate(-577 0)">AF233933/GB3</text>
<text transform="rotate(56.23) translate(-577 0)">AY751241/GB6</text>
<text transform="rotate(69.19) translate(-577 0)">AY672698/GB4</text>
<text transform="rotate(82.15) translate(-577 0)">AF065251/GB2</text>
</g>
<g class="rf">
<text transform="rotate(-84.88) translate(577 0)">AY751281/GB5</text>
<text transform="rotate(-71.92) translate(577 0)">AY751256/GB1</text>
<text transform="rotate(-58.96) translate(577 0)">Prototype</text>
</g>
<g class="kw">
<text transform="rotate(-46.00) translate(577 0)">KW/RSVB/1488</text>
<text transform="rotate(-33.03) translate(577 0)">KW/RSVB/9387</text>
<text transform="rotate(-20.07) translate(577 0)">KW/RSVB/52984</text>
<text transform="rotate(-7.11) translate(577 0)">KW/RSVB/9334</text>
<text transform="rotate(5.86) translate(577 0)">KW/RSVB/4269</text>
<text transform="rotate(18.82) translate(577 0)">KW/RSVB/11263</text>
<text transform="rotate(31.78) translate(577 0)">KW/RSVB/7936</text>
<text transform="rotate(44.74) translate(577 0)">KW/RSVB/11508</text>
<text transform="rotate(57.71) translate(577 0)">KW/RSVB/10635</text>
<text transform="rotate(70.67) translate(577 0)">KW/RSVB/10643</text>
<text transform="rotate(83.63) translate(577 0)">KW/RSVB/10636</text>
</g>
<g class="kw" text-anchor="end">
<text transform="rotate(276.60) translate(-577 0)">KW/RSVB/6550</text>
<text transform="rotate(289.56) translate(-577 0)">KW/RSVB/9761</text>
<text transform="rotate(302.52) translate(-577 0)">KW/RSVB/52533</text>
<text transform="rotate(315.49) translate(-577 0)">KW/RSVB/10505</text>
<text transform="rotate(328.45) translate(-577 0)">KW/RSVB/10884</text>
<text transform="rotate(341.41) translate(-577 0)">KW/RSVB/11318</text>
<text transform="rotate(354.37) translate(-577 0)">KW/RSVB/11566</text>
<text transform="rotate(367.34) translate(-577 0)">KW/RSVB/3244</text>
<text transform="rotate(380.30) translate(-577 0)">KW/RSVB/2138</text>
</g>
</g>
</svg>
